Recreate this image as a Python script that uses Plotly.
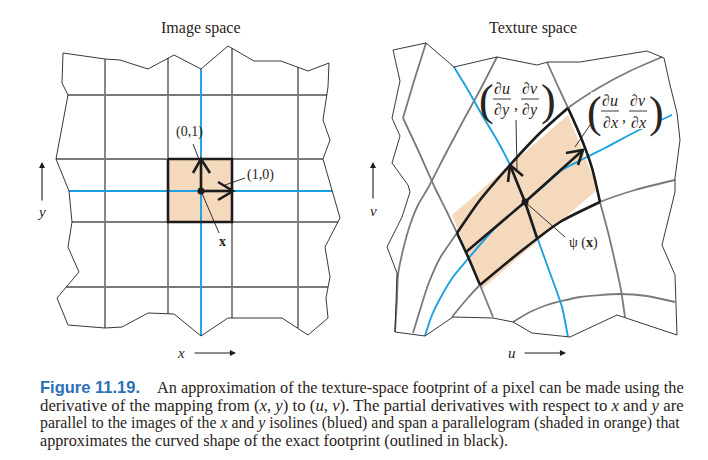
import plotly.graph_objects as go

# all coordinates are in picture pixels (x to the right, y downwards)

# ---- image space (left panel) ----
img_outline = [(63, 53), (105, 59), (120, 60), (148, 69), (174, 55), (201, 69), (228, 46), (254, 61),
               (281, 61), (308, 71), (329, 63), (328, 87), (323, 120), (330, 140), (323, 159), (340, 218),
               (325, 247), (330, 277), (326, 298), (328, 318), (308, 335), (282, 318), (228, 318),
               (201, 336), (174, 314), (148, 313), (122, 327), (105, 328), (68, 325), (57, 298), (79, 272),
               (68, 247), (72, 222), (69, 191), (56, 159), (68, 95), (62, 83), (63, 53)]
img_cols = [105, 168, 232, 298]
img_cols_top = [59, 58, 48, 67]
img_cols_bottom = [328, 314, 318, 328]
img_rows = [95, 159, 222, 287]
img_rows_left = [68, 56, 72, 66]
img_rows_right = [327, 323, 338, 328]
img_blue_col = [(201, 69), (201, 336)]
img_blue_row = [(69, 191), (332, 191)]
img_pixel = [(168, 159), (232, 159), (232, 222), (168, 222), (168, 159)]
img_center = (201, 191)
img_du = [(201, 191), (232, 191)]
img_dv = [(201, 191), (201, 159)]
img_head_du = [(218, 182), (233, 191), (218, 200)]
img_head_dv = [(193, 173), (201, 159), (210, 173)]

# ---- texture space (right panel) ----
tex_outline = [(393, 50), (426, 43), (454, 67), (482, 60), (497, 57), (537, 65), (548, 62), (580, 62),
               (647, 51), (664, 58), (670, 85), (677, 113), (680, 140), (675, 178), (675, 192),
               (662, 245), (675, 275), (677, 335), (625, 317), (617, 315), (570, 337), (532, 333),
               (513, 322), (493, 318), (453, 317), (425, 336), (395, 332), (397, 273), (387, 247),
               (402, 217), (410, 192), (408, 185), (392, 163), (400, 136), (392, 118), (400, 81), (393, 50)]
tex_edge_a = [(426, 43), (414, 81), (403, 118)]
tex_row_95 = [(395, 332), (397, 300), (398, 275), (403, 250), (410, 225), (418, 205), (428, 188),
              (445, 155), (462, 123), (480, 90), (497, 57)]
tex_col_168 = [(403, 118), (418, 150), (435, 188), (447, 212), (457, 233), (469, 259), (480, 285), (493, 317)]
tex_col_232 = [(547, 62), (556, 82), (562, 95), (568, 108), (580, 135), (592, 168), (600, 202),
               (608, 232), (615, 262), (621, 290), (625, 317)]
tex_row_159 = [(413, 333), (420, 310), (428, 285), (440, 258), (457, 233), (480, 200), (510, 165),
               (540, 133), (568, 108), (600, 87), (630, 71), (662, 57)]
tex_row_222 = [(452, 317), (466, 300), (480, 285), (520, 252), (560, 222), (600, 202), (635, 190), (675, 180)]
tex_row_287 = [(513, 322), (530, 312), (547, 305), (580, 297), (620, 294), (647, 296), (675, 302)]
tex_blue_col = [(454, 67), (468, 90), (482, 115), (497, 140), (510, 165), (517, 183), (525, 202),
                (537, 237), (550, 273), (562, 307), (568, 337)]
tex_blue_row = [(425, 336), (432, 315), (442, 295), (453, 277), (467, 260), (495, 228), (525, 202),
                (545, 185), (562, 170), (583, 159), (605, 148), (637, 131), (672, 115)]
tex_parallelogram = [(452, 215), (568, 115), (598, 189), (482, 289), (452, 215)]
tex_center = (525, 202)
tex_du = [(466, 252), (525, 202), (583, 150)]
tex_dv = [(537, 238), (525, 202), (510, 165)]
tex_head_du = [(566, 153), (583, 150), (578, 165)]
tex_head_dv = [(508, 182), (510, 165), (523, 176)]

CAPTION = [
    "An approximation of the texture-space footprint of a pixel can be made using the",
    "derivative of the mapping from (<i>x</i>, <i>y</i>) to (<i>u</i>, <i>v</i>). The partial derivatives "
    "with respect to <i>x</i> and <i>y</i> are",
    "parallel to the images of the <i>x</i> and <i>y</i> isolines (blued) and span a parallelogram "
    "(shaded in orange) that",
    "approximates the curved shape of the exact footprint (outlined in black).",
]
CAPTION_SIZES = [16.3, 16.8, 15.85, 16.2]

GRAY = "#7a7a7a"
BLUE = "#1ba1e2"
PEACH = "#f4d9bd"
INK = "#1c1c1c"
TEXT = "#2b2320"
SERIF = "Liberation Serif"
PAGE_MARGIN = 8  # the page body keeps its default margin

fig = go.Figure()


def add_line(points, color, width, smooth=False, fill=None):
    fig.add_trace(go.Scatter(
        x=[p[0] for p in points], y=[p[1] for p in points], mode="lines",
        line=dict(color=color, width=width, shape="spline" if smooth else "linear", smoothing=0.6),
        fill=fill, fillcolor=PEACH if fill else None,
        hoverinfo="skip", showlegend=False))


# fills
add_line(img_pixel, PEACH, 0, fill="toself")
add_line(tex_parallelogram, PEACH, 0, fill="toself")

# left grid
for x, y0, y1 in zip(img_cols, img_cols_top, img_cols_bottom):
    add_line([(x, y0), (x, y1)], GRAY, 1.8)
for y, x0, x1 in zip(img_rows, img_rows_left, img_rows_right):
    add_line([(x0, y), (x1, y)], GRAY, 1.8)
add_line(img_blue_col, BLUE, 1.9)
add_line(img_blue_row, BLUE, 1.9)
add_line(img_outline, "#222222", 0.9)

# right grid
for curve in (tex_edge_a, tex_row_95, tex_col_168, tex_col_232, tex_row_159, tex_row_222, tex_row_287):
    add_line(curve, GRAY, 1.8, smooth=True)
add_line(tex_blue_col, BLUE, 1.9, smooth=True)
add_line(tex_blue_row, BLUE, 1.9, smooth=True)
add_line(tex_outline, "#222222", 0.9)

# bold footprints and derivative arrows
add_line(img_pixel, INK, 2.6)
for seg in (img_du, img_dv, img_head_du, img_head_dv):
    add_line(seg, INK, 2.6)
for seg in (tex_row_159[4:9], tex_row_222[2:6], tex_col_168[4:7], tex_col_232[3:7]):
    add_line(seg, INK, 2.6, smooth=True)
for seg in (tex_du, tex_dv, tex_head_du, tex_head_dv):
    add_line(seg, INK, 2.6)

# leader lines
for seg in ([(193, 144), (200, 162)], [(245, 178), (225, 185)], [(201, 191), (219, 233)],
            [(525, 202), (565, 237)], [(516, 120), (517, 170)], [(590, 125), (575, 147)]):
    add_line(seg, INK, 0.9)

fig.add_trace(go.Scatter(x=[img_center[0], tex_center[0]], y=[img_center[1], tex_center[1]],
                         mode="markers", marker=dict(color=INK, size=7),
                         hoverinfo="skip", showlegend=False))

# white backing behind the du/dx label
fig.add_shape(type="rect", x0=591, x1=661, y0=92, y1=129, fillcolor="white",
              line=dict(width=0), layer="above")


def text(x, y, s, size=14, color=TEXT, family=SERIF, anchor="center"):
    fig.add_annotation(x=x, y=y, text=s, showarrow=False, xanchor=anchor, yanchor="middle",
                       font=dict(family=family, size=size, color=color))


text(201, 28, "Image space", 16)
text(533, 28, "Texture space", 16)
text(189, 132, "(0,1)", 14)
text(260, 175, "(1,0)", 14)
text(222, 241, "<b>x</b>", 14)
text(583, 243, "ψ (<b>x</b>)", 14)
text(41, 212, "<i>y</i>", 15)
text(373, 211, "<i>v</i>", 15)
text(181, 353, "<i>x</i>", 15)
text(512, 353, "<i>u</i>", 15)

# axis arrows
for (x0, y0, x1, y1) in ((42, 202, 42, 162), (193, 353, 236, 353), (373, 200, 373, 162), (523, 353, 566, 353)):
    fig.add_annotation(x=x1, y=y1, ax=x0, ay=y0, xref="x", yref="y", axref="x", ayref="y",
                       showarrow=True, arrowhead=2, arrowsize=1.1, arrowwidth=1.1, arrowcolor=INK, text="")

# derivative labels built from fractions
for cx, cy, den in ((502, 99, "y"), (610, 111, "x")):
    text(cx - 16, cy + 1, "(", 44)
    text(cx + 46, cy + 1, ")", 44)
    text(cx + 14, cy + 5, ",", 16)
    for dx, num in ((0, "u"), (28, "v")):
        text(cx + dx, cy - 11, f"∂<i>{num}</i>", 16)
        text(cx + dx, cy + 11, f"∂<i>{den}</i>", 16)
        fig.add_shape(type="line", x0=cx + dx - 9, x1=cx + dx + 9, y0=cy, y1=cy,
                      line=dict(color=TEXT, width=0.9), layer="above")

# caption
text(38, 387, "<b>Figure 11.19.</b>", 16.5, "#2a70b8", "Liberation Sans", "left")
text(155, 387, CAPTION[0], CAPTION_SIZES[0], TEXT, SERIF, "left")
for i, line in enumerate(CAPTION[1:]):
    text(38, 405 + 18 * i, line, CAPTION_SIZES[i + 1], TEXT, SERIF, "left")

fig.update_layout(
    width=708 - PAGE_MARGIN, height=460 - PAGE_MARGIN, margin=dict(l=0, r=0, t=0, b=0),
    paper_bgcolor="white", plot_bgcolor="white",
    xaxis=dict(range=[PAGE_MARGIN, 708], visible=False, fixedrange=True),
    yaxis=dict(range=[460, PAGE_MARGIN], visible=False, fixedrange=True),
)
fig.write_html("out.html")
